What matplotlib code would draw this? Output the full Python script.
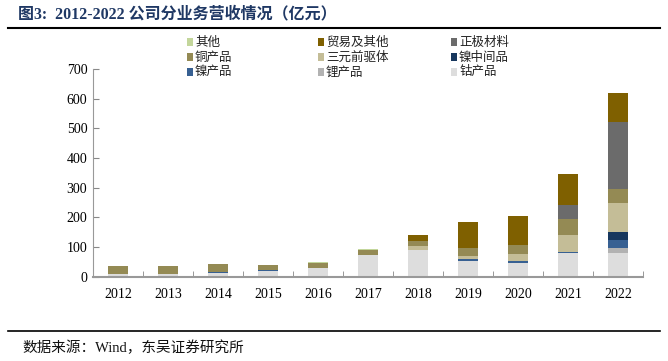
import numpy as np
import matplotlib
matplotlib.use("Agg")
import matplotlib.pyplot as plt
from matplotlib.patches import Rectangle
from matplotlib.lines import Line2D

plt.rcParams['font.family'] = ['Liberation Serif', 'Noto Sans CJK SC']

years = ['2012', '2013', '2014', '2015', '2016', '2017', '2018', '2019', '2020', '2021', '2022']

# stacked from bottom to top
series_names = ['钴产品', '锂产品', '镍产品', '镍中间品', '三元前驱体', '铜产品', '正极材料', '贸易及其他', '其他']
cobalt = [11, 11, 14, 20, 30, 72, 91, 55, 48, 81, 82]
lithium = [0, 0, 0, 0, 0, 0, 0, 0, 0, 0, 16]
nickel = [0, 0, 2, 2, 1, 0, 0, 4, 5, 3, 26]
nickel_mid = [0, 0, 0, 0, 0, 0, 0, 0, 0, 0, 28]
precursor = [0, 0, 0, 0, 0, 3, 14, 11, 24, 56, 98]
copper = [25, 25, 26, 17, 16, 17, 16, 26, 31, 54, 45]
cathode = [0, 0, 0, 0, 0, 0, 0, 0, 0, 47, 228]
trade = [0, 0, 0, 0, 0, 0, 21, 90, 97, 104, 96]
other = [0, 0, 1, 2, 3, 2, 0, 0, 0, 0, 0]

series = [cobalt, lithium, nickel, nickel_mid, precursor, copper, cathode, trade, other]
colors = ['#dddddd', '#b2b2b2', '#376092', '#17375e', '#c4bd97', '#948a54', '#6b6b6b', '#7f6000', '#c3d69b']

# legend order (row by row, as in the source)
legend_order = ['其他', '贸易及其他', '正极材料',
                '铜产品', '三元前驱体', '镍中间品',
                '镍产品', '锂产品', '钴产品']

fig = plt.figure(figsize=(6.68, 3.61), dpi=100)
ax = fig.add_axes([0.139, 0.233, 0.824, 0.576])

x = np.arange(len(years))
bottom = np.zeros(len(years))
for vals, c in zip(series, colors):
    vals = np.array(vals, dtype=float)
    ax.bar(x, vals, width=0.4, bottom=bottom, color=c, edgecolor='none')
    bottom += vals

ax.set_ylim(0, 700)
ax.set_yticks(range(0, 701, 100))
ax.set_xlim(-0.5, len(years) - 0.5)
ax.set_xticks(x)
ax.set_xticklabels(years)
ax.set_xticks(np.arange(-0.5, len(years), 1), minor=True)
ax.tick_params(axis='x', which='major', length=0, pad=8, labelsize=10)
ax.tick_params(axis='x', which='minor', direction='in', length=4, color='#888888')
ax.tick_params(axis='y', direction='in', length=4, color='#888888', labelsize=10, pad=4)
for s in ['top', 'right']:
    ax.spines[s].set_visible(False)
for s in ['left', 'bottom']:
    ax.spines[s].set_color('#999999')
ax.spines['bottom'].set_linewidth(1.5)

# manual legend, 3 x 3 grid
col_x = [187, 318, 451]
row_y = [42, 57, 72]
W, H = 668.0, 361.0
for i, name in enumerate(legend_order):
    c = colors[series_names.index(name)]
    px = col_x[i % 3]
    py = row_y[i // 3]
    fig.patches.append(Rectangle((px / W, 1 - (py + 3.5) / H), 6 / W, 7 / H,
                                 transform=fig.transFigure, facecolor=c, edgecolor='none'))
    fig.text((px + 8) / W, 1 - py / H, name, fontsize=9, va='center', ha='left',
             family=['Noto Sans CJK SC'], color='#222222')

# title and rules
fig.text(18 / W, 1 - 14 / H, '图3:  2012-2022 公司分业务营收情况（亿元）', fontsize=11.5,
         fontweight='bold', color='#1f3864', va='center', ha='left')
fig.add_artist(Line2D([8 / W, 660 / W], [1 - 28 / H, 1 - 28 / H], color='black', lw=1.5,
                      transform=fig.transFigure))
fig.add_artist(Line2D([8 / W, 660 / W], [1 - 331 / H, 1 - 331 / H], color='black', lw=1.2,
                      transform=fig.transFigure))
fig.text(22 / W, 1 - 348 / H, '数据来源：Wind，东吴证券研究所', fontsize=10.5,
         color='#111111', va='center', ha='left')

fig.savefig('out.png', dpi=100)
